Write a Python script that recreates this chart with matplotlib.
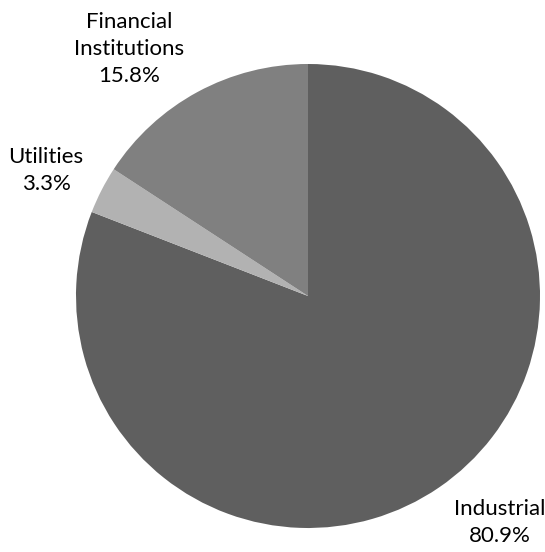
import matplotlib
matplotlib.use("Agg")
import matplotlib.pyplot as plt

# sector shares (%), clockwise from 12 o'clock
sectors = ["Industrial", "Utilities", "Financial\nInstitutions"]
shares = [80.9, 3.3, 15.8]
colors = ["#5f5f5f", "#b2b2b2", "#808080"]

# label spots (x, y in data units, pie radius = 1)
label_pos = [(0.825, -0.975), (-1.129, 0.54), (-0.772, 1.065)]

fig = plt.figure(figsize=(5.45, 5.52), dpi=100)
ax = fig.add_axes([76 / 545, 24 / 552, 464 / 545, 464 / 552])

wedges, texts = ax.pie(shares, colors=colors, startangle=90, counterclock=False,
                       labels=[f"{s}\n{v}%" for s, v in zip(sectors, shares)],
                       radius=1.0, wedgeprops=dict(linewidth=0))

for t, (x, y) in zip(texts, label_pos):
    t.set_position((x, y))
    t.set_ha("center")
    t.set_va("center")
    t.set_fontsize(16)
    t.set_family("Lato")
    t.set_linespacing(1.45)
    t.set_color("black")

ax.set_xlim(-1, 1)
ax.set_ylim(-1, 1)
ax.set_aspect("equal")
ax.axis("off")

fig.savefig("out.png", dpi=100)
